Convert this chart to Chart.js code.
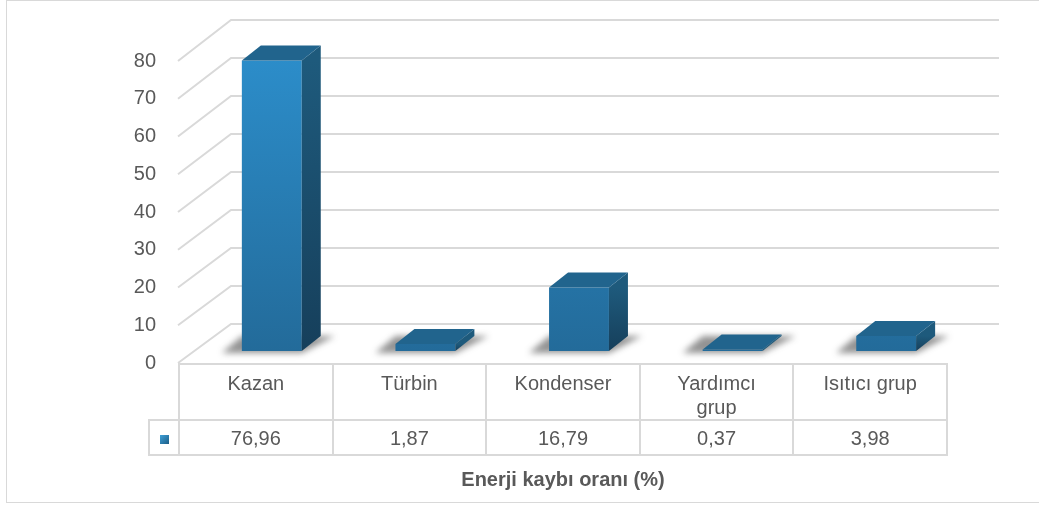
<!DOCTYPE html>
<html>
<head>
<meta charset="utf-8">
<script src="https://cdn.jsdelivr.net/npm/chart.js@4/dist/chart.umd.min.js"></script>
<style>
  body { margin: 0; background: #fff; }
  #wrap { position: relative; width: 1039px; height: 506px; overflow: hidden; font-family: "Liberation Sans", Arial, sans-serif; }
  #frame { position: absolute; left: 6px; top: 0; width: 1040px; height: 503px; border: 1px solid #d9d9d9; box-sizing: border-box; }
  #chart { position: absolute; left: 0; top: 0; }
  #dataTable { position: absolute; border-collapse: collapse; table-layout: fixed; color: #595959; font-size: 20px; }
  #dataTable td { border: 2px solid #d9d9d9; text-align: center; padding: 0 14px; }
  #dataTable tr.head td { height: 54px; vertical-align: top; line-height: 24px; padding-top: 6px; box-sizing: border-box; }
  #dataTable tr.head td.blank { border-top: none; border-left: none; }
  #dataTable tr.vals td { height: 33px; line-height: 28px; }
  #dataTable td.key { padding: 0; }
  .swatch { display: inline-block; width: 9px; height: 9px; background: linear-gradient(135deg, #3fa0d8, #1c5d86); vertical-align: middle; }
  #title { position: absolute; top: 468px; text-align: center; font-weight: bold; font-size: 20px; color: #595959; }
</style>
</head>
<body>
<div id="wrap">
  <div id="frame"></div>
  <canvas id="chart" width="1039" height="506"></canvas>
  <table id="dataTable">
    <colgroup id="cols"></colgroup>
    <tr class="head" id="headRow"><td class="blank"></td></tr>
    <tr class="vals" id="valRow"><td class="key"><span class="swatch"></span></td></tr>
  </table>
  <div id="title"></div>
</div>
<script>
const categories = ["Kazan", "Türbin", "Kondenser", ["Yardımcı", "grup"], "Isıtıcı grup"];
const lossRates = [76.96, 1.87, 16.79, 0.37, 3.98];
const yTicks = [0, 10, 20, 30, 40, 50, 60, 70, 80];
const seriesName = "Enerji kaybı oranı (%)";

// 3d look: bars sit a bit back on the floor, walls further back
const barShift = { x: 16, y: -12 };
const barDepth = { x: 19, y: 15 };
const wallDepth = { x: 52, y: 39 };

const headRow = document.getElementById("headRow");
const valRow = document.getElementById("valRow");
categories.forEach((c, i) => {
    const th = document.createElement("td");
    th.innerHTML = Array.isArray(c) ? c.join("<br>") : c;
    headRow.appendChild(th);
    const td = document.createElement("td");
    td.textContent = lossRates[i].toFixed(2).replace(".", ",");
    valRow.appendChild(td);
});
document.getElementById("title").textContent = seriesName;

const bar3d = {
    id: "bar3d",
    beforeDatasetsDraw(chart) {
        const { ctx, chartArea: ca, scales: { y } } = chart;
        ctx.save();
        // back wall grid + diagonals to the front labels
        ctx.strokeStyle = "#d9d9d9";
        ctx.lineWidth = 2;
        yTicks.forEach(v => {
            const yf = y.getPixelForValue(v);
            const yb = yf - wallDepth.y - (v / 80) * 2;
            ctx.beginPath();
            ctx.moveTo(ca.left - 1, yf);
            ctx.lineTo(ca.left + wallDepth.x, yb);
            ctx.lineTo(ca.right + wallDepth.x, yb);
            ctx.stroke();
        });

        ctx.translate(barShift.x, barShift.y);
        // soft floor shadows
        chart.getDatasetMeta(0).data.forEach(bar => {
            const l = bar.x - bar.width / 2, r = bar.x + bar.width / 2, b = bar.base;
            ctx.save();
            ctx.filter = "blur(3px)";
            ctx.fillStyle = "rgba(40,40,40,0.5)";
            ctx.beginPath();
            ctx.moveTo(l - 20, b + 2);
            ctx.lineTo(r, b + 2);
            ctx.lineTo(r + barDepth.x + 14, b - barDepth.y);
            ctx.lineTo(l, b - barDepth.y);
            ctx.closePath();
            ctx.fill();
            ctx.restore();
        });
    },
    afterDatasetsDraw(chart) {
        const { ctx } = chart;
        chart.getDatasetMeta(0).data.forEach(bar => {
            const l = bar.x - bar.width / 2, r = bar.x + bar.width / 2;
            const t = bar.y, b = bar.base;
            const side = ctx.createLinearGradient(0, t, 0, b);
            side.addColorStop(0, "#1e5a7c");
            side.addColorStop(1, "#163f5b");
            ctx.fillStyle = side;
            ctx.beginPath();
            ctx.moveTo(r, t);
            ctx.lineTo(r + barDepth.x, t - barDepth.y);
            ctx.lineTo(r + barDepth.x, b - barDepth.y);
            ctx.lineTo(r, b);
            ctx.closePath();
            ctx.fill();

            ctx.fillStyle = "#21648d";
            ctx.beginPath();
            ctx.moveTo(l, t);
            ctx.lineTo(l + barDepth.x, t - barDepth.y);
            ctx.lineTo(r + barDepth.x, t - barDepth.y);
            ctx.lineTo(r, t);
            ctx.closePath();
            ctx.fill();
        });
        ctx.restore();
    },
    afterDraw(chart) {
        // line the data table up with the category columns
        const ca = chart.chartArea;
        const colW = (ca.right - ca.left) / categories.length;
        const keyW = 30;
        const table = document.getElementById("dataTable");
        table.style.left = (ca.left - keyW - 1) + "px";
        table.style.top = (ca.bottom) + "px";
        table.style.width = (ca.right - ca.left + keyW + 2) + "px";
        const cols = document.getElementById("cols");
        if (!cols.children.length) {
            [keyW].concat(categories.map(() => colW)).forEach(w => {
                const col = document.createElement("col");
                col.style.width = w + "px";
                cols.appendChild(col);
            });
        }
        const title = document.getElementById("title");
        title.style.left = ca.left + "px";
        title.style.width = (ca.right - ca.left) + "px";
    }
};

new Chart(document.getElementById("chart"), {
    type: "bar",
    data: {
        labels: categories,
        datasets: [{
            label: seriesName,
            data: lossRates,
            clip: false,
            barPercentage: 0.39,
            categoryPercentage: 1,
            backgroundColor: (c) => {
                const ca = c.chart.chartArea;
                if (!ca) return "#2a80b5";
                const g = c.chart.ctx.createLinearGradient(0, ca.top, 0, ca.bottom);
                g.addColorStop(0, "#2c8ecb");
                g.addColorStop(1, "#236b9a");
                return g;
            }
        }]
    },
    options: {
        responsive: false,
        animation: false,
        layout: { padding: { left: 0, top: 61, right: 92, bottom: 143 } },
        plugins: { legend: { display: false }, tooltip: { enabled: false } },
        scales: {
            x: { display: false },
            y: {
                min: 0,
                max: 80,
                afterFit: (s) => { s.width = 179; },
                afterBuildTicks: (s) => { s.ticks = yTicks.map(v => ({ value: v })); },
                grid: { display: false, drawTicks: false },
                border: { display: false },
                ticks: {
                    padding: 23,
                    color: "#595959",
                    font: { family: "'Liberation Sans', Arial, sans-serif", size: 20 }
                }
            }
        }
    },
    plugins: [bar3d]
});
</script>
</body>
</html>
